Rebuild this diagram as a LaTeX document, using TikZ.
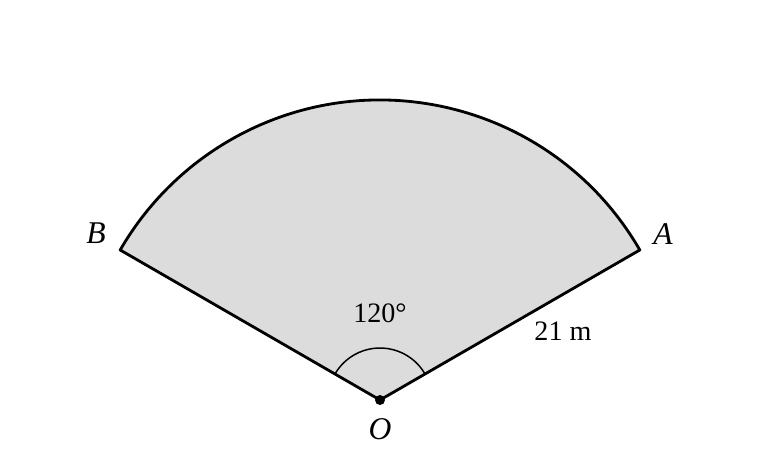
\documentclass[tikz,border=0pt]{standalone}
\usepackage{fontspec}
\setmainfont{Liberation Serif}
\usetikzlibrary{calc}
\definecolor{sectorgray}{RGB}{220,220,220}
\begin{document}
\begin{tikzpicture}[line join=round, every node/.style={font=\fontsize{16}{19}\selectfont},
        sector/.style={draw=black, line width=1.6pt, fill=sectorgray},
        anglemark/.style={draw=black, line width=0.85pt},
        pointlabel/.style={font=\fontsize{18}{21}\selectfont\itshape}]
        \useasboundingbox (0cm,0cm) rectangle (15.2cm,9.2cm);
        \coordinate (O) at (7.6cm,1.2cm);
        \coordinate (A) at ($(O)+(30:6cm)$);
        \coordinate (B) at ($(O)+(150:6cm)$);
        
        \draw[sector] (O) -- (A) arc (30:150:6cm) -- cycle;
        \draw[anglemark] ($(O)+(30:1.04cm)$) arc (30:150:1.04cm);
        
        \fill[black] (O) circle (0.1cm);
        
        \node[pointlabel] (labA) at (13.26cm,4.52cm) {A};
        \node[pointlabel] (labB) at (1.92cm,4.54cm) {B};
        \node[pointlabel] (labO) at (7.6cm,0.62cm) {O};
        \node (angle) at (7.6cm,2.94cm) {120°};
        \node (radius) at (11.26cm,2.58cm) {21 m};
    \end{tikzpicture}
\end{document}
